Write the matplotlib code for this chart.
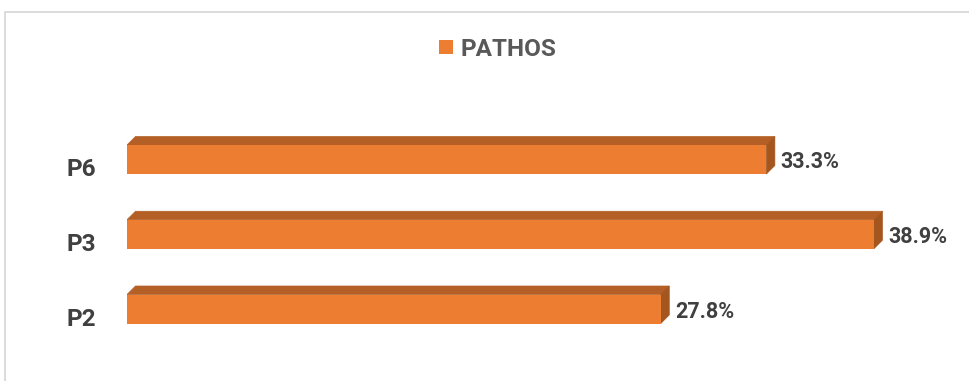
import matplotlib
matplotlib.use("Agg")
import matplotlib.pyplot as plt
from matplotlib.patches import Polygon, Rectangle, Patch
from matplotlib.transforms import ScaledTranslation

categories = ['P2', 'P3', 'P6']
values = [27.8, 38.9, 33.3]
series_name = 'PATHOS'

plt.rcParams['font.family'] = ['Roboto', 'DejaVu Sans']

W, H, DPI = 970, 381, 100
fig = plt.figure(figsize=(W / DPI, H / DPI), dpi=DPI)

FRONT = '#ED7D31'
TOP = '#B45F25'
SIDE = '#A5561F'
TXT = '#404040'

xmax = 42.0
px_per_unit = 19.2
spacing = 74.75
ax_left = 127
ax_w = xmax * px_per_unit
ax_bottom = H - (309 + 0.5 * spacing)
ax_h = 3 * spacing
ax = fig.add_axes([ax_left / W, ax_bottom / H, ax_w / W, ax_h / H])
ax.set_xlim(0, xmax)
ax.set_ylim(-0.5, 2.5)
for s in ax.spines.values():
    s.set_visible(False)
ax.set_xticks([])

ypos = list(range(len(categories)))
bar_h = 29 / spacing

# depth in data units (8.5 px)
p0 = ax.transData.transform((0, 0))
p1 = ax.transData.transform((1, 1))
dx = 8.5 / (p1[0] - p0[0])
dy = 8.5 / (p1[1] - p0[1])

for y, v in zip(ypos, values):
    yt = y + bar_h / 2
    yb = y - bar_h / 2
    top = Polygon([(0, yt), (v, yt), (v + dx, yt + dy), (dx, yt + dy)],
                  closed=True, facecolor=TOP, edgecolor=TOP, lw=0.5, zorder=2)
    side = Polygon([(v, yb), (v, yt), (v + dx, yt + dy), (v + dx, yb + dy)],
                   closed=True, facecolor=SIDE, edgecolor=SIDE, lw=0.5, zorder=2)
    ax.add_patch(top)
    ax.add_patch(side)

bars = ax.barh(ypos, values, height=bar_h, color=FRONT, zorder=3)

for y, v in zip(ypos, values):
    ax.text(v + 14 / px_per_unit, y - 2.5 / spacing, f'{v:.1f}%', ha='left', va='center',
            fontsize=15.5, fontweight='bold', color=TXT)

ax.set_yticks(ypos)
ax.set_yticklabels(categories, fontsize=17.5, fontweight='bold', color=TXT)
ax.tick_params(axis='y', length=0, pad=22)
off = ScaledTranslation(0, -8 / DPI, fig.dpi_scale_trans)
for lab in ax.get_yticklabels():
    lab.set_transform(lab.get_transform() + off)

leg = fig.legend(handles=[Patch(facecolor=FRONT, edgecolor='none')], labels=[series_name],
                 loc='center', bbox_to_anchor=(0.513, 1 - 49 / H), frameon=False,
                 prop={'size': 17.5, 'weight': 'bold'}, labelcolor='#595959',
                 handlelength=0.6, handleheight=0.55, handletextpad=0.3)

fig.add_artist(Rectangle((5.5 / W, -0.2), 1.2, (1 - 12.5 / H) + 0.2, fill=False,
                         edgecolor='#D9D9D9', lw=1.3, transform=fig.transFigure))

fig.savefig('out.png', dpi=DPI)
